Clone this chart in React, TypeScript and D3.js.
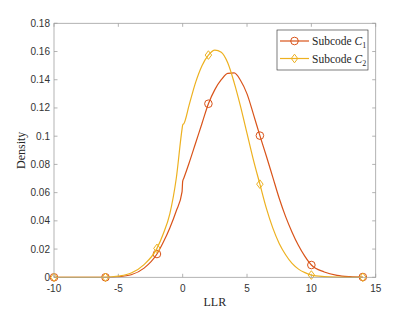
import { useEffect, useRef } from "react";
import * as d3 from "d3";

const WIDTH = 415;
const HEIGHT = 312;
const MARGIN = { top: 23.3, right: 39.3, bottom: 34.7, left: 54 };

// LLR grid (x) and densities
const LLR = [-10, -8, -6, -5, -4, -3, -2, -1.5, -1, -0.5, -0.05, 0, 0.1, 0.5, 1, 1.5, 2, 2.5, 3, 3.5, 4, 4.5, 5, 5.5, 6, 6.5, 7, 7.5, 8, 8.5, 9, 9.5, 10, 11, 12, 13, 14];
const C1 = [0, 0, 0, 0.0004, 0.0018, 0.0065, 0.0165, 0.025, 0.035, 0.047, 0.0605, 0.068, 0.0705, 0.081, 0.095, 0.109, 0.123, 0.133, 0.140, 0.1445, 0.1448, 0.1395, 0.130, 0.1155, 0.1004, 0.086, 0.071, 0.056, 0.043, 0.032, 0.0225, 0.0148, 0.0087, 0.0038, 0.0014, 0.0005, 0.0002];
const C2 = [0, 0, 0, 0.0008, 0.003, 0.009, 0.0205, 0.031, 0.045, 0.07, 0.105, 0.108, 0.109, 0.122, 0.138, 0.150, 0.1575, 0.161, 0.1595, 0.152, 0.138, 0.121, 0.102, 0.083, 0.066, 0.049, 0.035, 0.024, 0.016, 0.0098, 0.0058, 0.0033, 0.0016, 0.0005, 0.0001, 0, 0];

const MARKER_X = [-10, -6, -2, 2, 6, 10, 14];
const X_TICKS = [-10, -5, 0, 5, 10, 15];
const Y_TICKS = [0, 0.02, 0.04, 0.06, 0.08, 0.1, 0.12, 0.14, 0.16, 0.18];

const SERIES = [
  { name: "1", values: C1, color: "#D95319", marker: "circle" },
  { name: "2", values: C2, color: "#EDB120", marker: "diamond" },
];

export default function App() {
  const svgRef = useRef<SVGSVGElement>(null);

  useEffect(() => {
    const svg = d3.select(svgRef.current);
    svg.selectAll("*").remove();

    const x0 = MARGIN.left;
    const x1 = WIDTH - MARGIN.right;
    const y0 = HEIGHT - MARGIN.bottom;
    const y1 = MARGIN.top;

    const x = d3.scaleLinear().domain([-10, 15]).range([x0, x1]);
    const y = d3.scaleLinear().domain([0, 0.18]).range([y0, y1]);

    const axisColor = "#a0a0a0";
    const tickFont = "Liberation Sans, Arial, sans-serif";
    const serif = "Liberation Serif, Times New Roman, serif";

    // ticks inward on all four sides
    const ticks = svg.append("g").attr("stroke", axisColor).attr("stroke-width", 0.8);
    X_TICKS.forEach((t) => {
      ticks.append("line").attr("x1", x(t)).attr("x2", x(t)).attr("y1", y0).attr("y2", y0 - 3.5);
      ticks.append("line").attr("x1", x(t)).attr("x2", x(t)).attr("y1", y1).attr("y2", y1 + 3.5);
    });
    Y_TICKS.forEach((t) => {
      ticks.append("line").attr("x1", x0).attr("x2", x0 + 3.5).attr("y1", y(t)).attr("y2", y(t));
      ticks.append("line").attr("x1", x1).attr("x2", x1 - 3.5).attr("y1", y(t)).attr("y2", y(t));
    });

    // tick labels
    svg.append("g")
      .selectAll("text")
      .data(X_TICKS)
      .join("text")
      .attr("x", (d) => x(d))
      .attr("y", y0 + 15)
      .attr("text-anchor", "middle")
      .attr("font-family", tickFont)
      .attr("font-size", 10)
      .attr("fill", "#333")
      .text((d) => String(d));

    svg.append("g")
      .selectAll("text")
      .data(Y_TICKS)
      .join("text")
      .attr("x", x0 - 4)
      .attr("y", (d) => y(d) + 3.5)
      .attr("text-anchor", "end")
      .attr("font-family", tickFont)
      .attr("font-size", 10)
      .attr("fill", "#333")
      .text((d) => String(+d.toFixed(2)));

    // axis labels
    svg.append("text")
      .attr("x", (x0 + x1) / 2)
      .attr("y", HEIGHT - 6)
      .attr("text-anchor", "middle")
      .attr("font-family", serif)
      .attr("font-size", 12)
      .attr("fill", "#262626")
      .text("LLR");

    svg.append("text")
      .attr("transform", `translate(25,${(y0 + y1) / 2}) rotate(-90)`)
      .attr("text-anchor", "middle")
      .attr("font-family", serif)
      .attr("font-size", 12)
      .attr("fill", "#262626")
      .text("Density");

    const line = d3.line<number>()
      .x((_, i) => x(LLR[i]))
      .y((d) => y(d))
      .curve(d3.curveMonotoneX);

    const drawMarker = (g: any, cx: number, cy: number, kind: string, color: string) => {
      if (kind === "circle") {
        g.append("circle").attr("cx", cx).attr("cy", cy).attr("r", 3.8)
          .attr("fill", "none").attr("stroke", color).attr("stroke-width", 1);
      } else {
        const r = 4.3;
        g.append("path")
          .attr("d", `M${cx},${cy - r}L${cx + r * 0.75},${cy}L${cx},${cy + r}L${cx - r * 0.75},${cy}Z`)
          .attr("fill", "none").attr("stroke", color).attr("stroke-width", 1);
      }
    };

    SERIES.forEach((s) => {
      const g = svg.append("g");
      g.append("path")
        .datum(s.values)
        .attr("fill", "none")
        .attr("stroke", s.color)
        .attr("stroke-width", 1.2)
        .attr("d", line);
      MARKER_X.forEach((mx) => {
        const idx = LLR.indexOf(mx);
        drawMarker(g, x(mx), y(s.values[idx]), s.marker, s.color);
      });
    });

    // box edges
    svg.append("rect")
      .attr("x", x0).attr("y", y1)
      .attr("width", x1 - x0).attr("height", y0 - y1)
      .attr("fill", "none").attr("stroke", axisColor).attr("stroke-width", 0.8);

    // legend
    const lg = svg.append("g").attr("transform", "translate(277,30)");
    lg.append("rect").attr("width", 91).attr("height", 40)
      .attr("fill", "white").attr("stroke", "#262626").attr("stroke-width", 0.6);
    SERIES.forEach((s, i) => {
      const ly = 11 + i * 17.5;
      lg.append("line").attr("x1", 3).attr("x2", 32).attr("y1", ly).attr("y2", ly)
        .attr("stroke", s.color).attr("stroke-width", 1.2);
      drawMarker(lg, 17.5, ly, s.marker, s.color);
      const t = lg.append("text").attr("x", 35).attr("y", ly + 4)
        .attr("font-family", serif).attr("font-size", 11.5).attr("fill", "#262626");
      t.append("tspan").text("Subcode ");
      t.append("tspan").attr("font-style", "italic").text("C");
      t.append("tspan").attr("dy", 3).attr("font-size", 8).text(s.name);
    });
  }, []);

  return (
    <svg
      ref={svgRef}
      width={WIDTH}
      height={HEIGHT}
      style={{ position: "absolute", left: 0, top: 0, background: "white" }}
    />
  );
}
